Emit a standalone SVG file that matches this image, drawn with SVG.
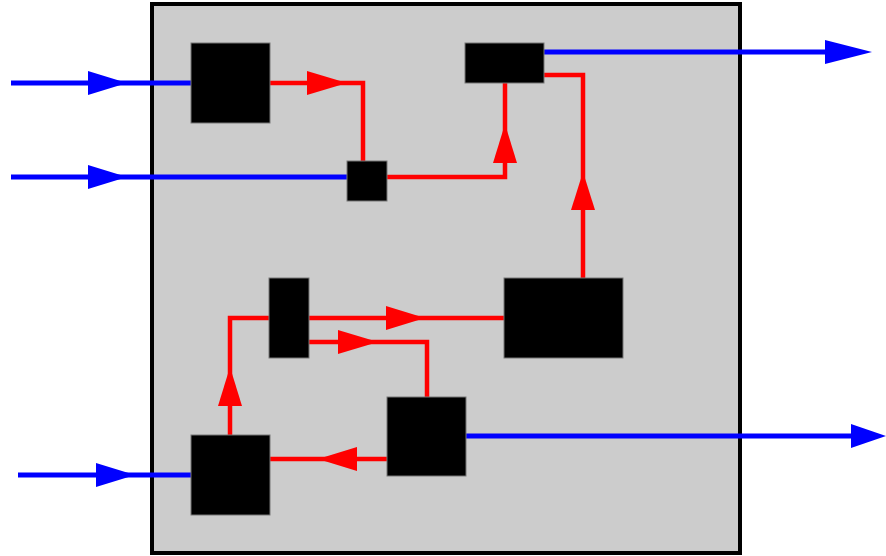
<svg xmlns="http://www.w3.org/2000/svg" width="886" height="556" viewBox="0 0 886 556">
<style>
.node{fill:#000;stroke:#777;stroke-width:1}
.red{fill:none;stroke:#f00;stroke-width:4.5}
.blue{fill:none;stroke:#00f;stroke-width:5}
.ra{fill:#f00}
.ba{fill:#00f}
</style>
<rect x="0" y="0" width="886" height="556" fill="#fff"/>
<rect id="container" x="152" y="4" width="588" height="549" fill="#ccc" stroke="#000" stroke-width="4"/>
<g id="connectors">
<path class="blue" d="M11,83H191"/>
<polygon class="ba" points="88,71 127,83 88,95"/>
<path class="blue" d="M11,177H347"/>
<polygon class="ba" points="88,165 127,177 88,189"/>
<path class="blue" d="M18,475H191"/>
<polygon class="ba" points="96,463 135,475 96,487"/>
<path class="blue" d="M544,52H850"/>
<polygon class="ba" points="825,40 872,52 825,64"/>
<path class="blue" d="M465,436H860"/>
<polygon class="ba" points="851,424 886,436 851,448"/>
<path class="red" d="M270,83H363V161"/>
<polygon class="ra" points="307,71 347,83 307,95"/>
<path class="red" d="M387,177H505V83"/>
<polygon class="ra" points="493,163 505,124 517,163"/>
<path class="red" d="M583,279V75H544"/>
<polygon class="ra" points="571,210 583,172 595,210"/>
<path class="red" d="M309,318H504"/>
<polygon class="ra" points="386,306 425,318 386,330"/>
<path class="red" d="M309,342H427V397"/>
<polygon class="ra" points="338,330 378,342 338,354"/>
<path class="red" d="M230,435V318H269"/>
<polygon class="ra" points="218,406 230,367 242,406"/>
<path class="red" d="M387,459H270"/>
<polygon class="ra" points="357,447 318,459 357,471"/>
</g>
<g id="n1"><rect class="node" x="191" y="43" width="79" height="80"/></g>
<g id="n2"><rect class="node" x="465" y="43" width="79" height="40"/></g>
<g id="n3"><rect class="node" x="347" y="161" width="40" height="40"/></g>
<g id="n4"><rect class="node" x="269" y="278" width="40" height="80"/></g>
<g id="n5"><rect class="node" x="504" y="278" width="119" height="80"/></g>
<g id="n6"><rect class="node" x="387" y="397" width="79" height="79"/></g>
<g id="n7"><rect class="node" x="191" y="435" width="79" height="80"/></g>
</svg>
